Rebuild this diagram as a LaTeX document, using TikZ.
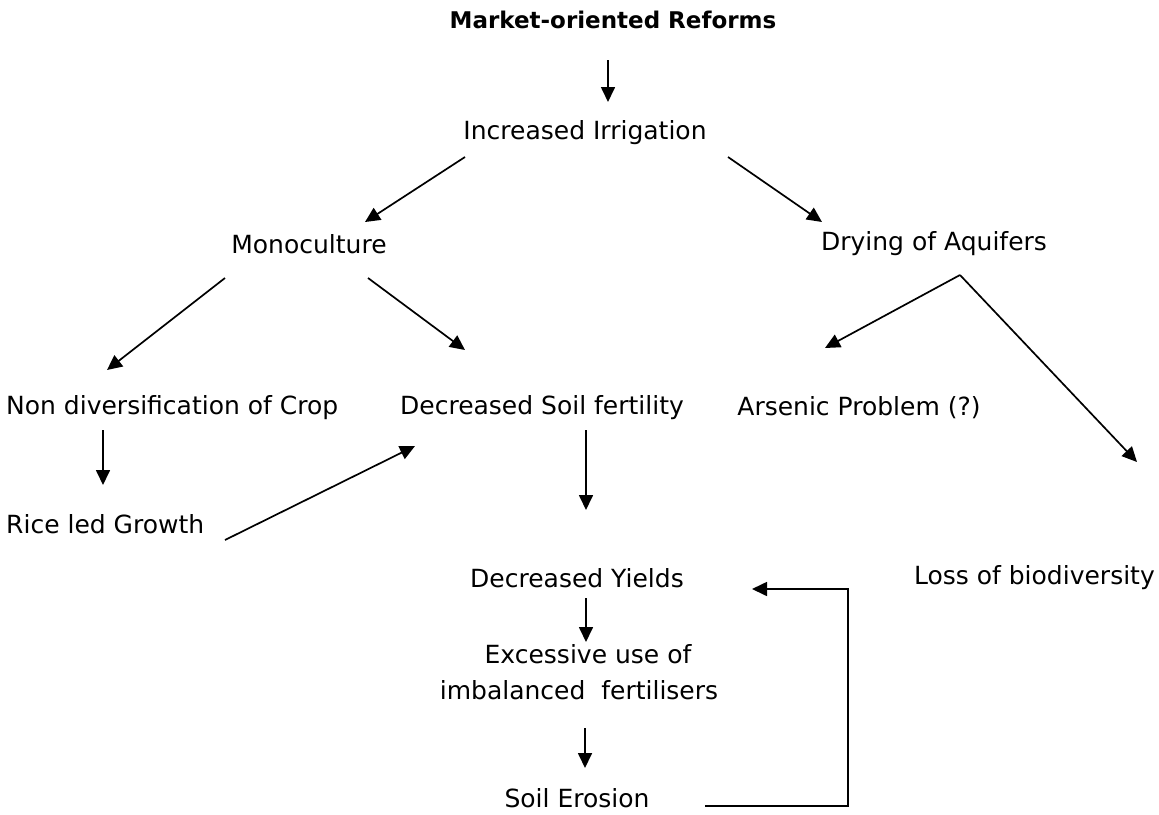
\documentclass[tikz,border=0pt]{standalone}
\usepackage{fontspec}
\setmainfont{DejaVu Sans}
\usetikzlibrary{arrows.meta}
\begin{document}
\begin{tikzpicture}[x=1pt,y=-1pt,
  lbl/.style={inner sep=0pt,font=\fontsize{25}{36}\selectfont},
  arr/.style={line width=1.7pt,-{Triangle[length=15pt,width=14pt]}}]
\useasboundingbox (0,0) rectangle (1159,814);
\node[lbl,font=\fontsize{23}{28}\selectfont\bfseries] (mor) at (613,20) {Market-oriented Reforms};
\node[lbl] (ii) at (585,133) {Increased Irrigation};
\node[lbl] (mono) at (309,244) {Monoculture};
\node[lbl] (dry) at (934,244) {Drying of Aquifers};
\node[lbl,anchor=west] (nd) at (6,408) {Non diversification of Crop};
\node[lbl] (dsf) at (542,408) {Decreased Soil fertility};
\node[lbl] (ars) at (859,408) {Arsenic Problem (?)};
\node[lbl,anchor=west] (rice) at (6,524) {Rice led Growth};
\node[lbl] (dy) at (577,578) {Decreased Yields};
\node[lbl,anchor=east] (lob) at (1155,578) {Loss of biodiversity};
\node[lbl,align=center] (exc) at (579,672) {\hspace*{18pt}Excessive use of\\imbalanced\ \ fertilisers};
\node[lbl] (se) at (577,798) {Soil Erosion};
% connector end points
\coordinate (a1s) at (608,60);  \coordinate (a1e) at (608,102);
\coordinate (a2s) at (465,157); \coordinate (a2e) at (365,222);
\coordinate (a3s) at (728,157); \coordinate (a3e) at (822,222);
\coordinate (a4s) at (225,278); \coordinate (a4e) at (107,370);
\coordinate (a5s) at (368,278); \coordinate (a5e) at (465,350);
\coordinate (a6s) at (960,275); \coordinate (a6e) at (825,348);
\coordinate (a7e) at (1137,462);
\coordinate (a8s) at (103,430); \coordinate (a8e) at (103,485);
\coordinate (a9s) at (586,430); \coordinate (a9e) at (586,510);
\coordinate (a10s) at (225,540); \coordinate (a10e) at (415,446);
\coordinate (a11s) at (586,598); \coordinate (a11e) at (586,642);
\coordinate (a12s) at (585,728); \coordinate (a12e) at (585,768);
\coordinate (fbs) at (705,806); \coordinate (fbc1) at (848,806);
\coordinate (fbc2) at (848,589); \coordinate (fbe) at (752,589);
\draw[arr] (a1s) -- (a1e);
\draw[arr] (a2s) -- (a2e);
\draw[arr] (a3s) -- (a3e);
\draw[arr] (a4s) -- (a4e);
\draw[arr] (a5s) -- (a5e);
\draw[arr] (a6s) -- (a6e);
\draw[arr] (a6s) -- (a7e);
\draw[arr] (a8s) -- (a8e);
\draw[arr] (a9s) -- (a9e);
\draw[arr] (a10s) -- (a10e);
\draw[arr] (a11s) -- (a11e);
\draw[arr] (a12s) -- (a12e);
\draw[arr] (fbs) -- (fbc1) -- (fbc2) -- (fbe);
\end{tikzpicture}
\end{document}
